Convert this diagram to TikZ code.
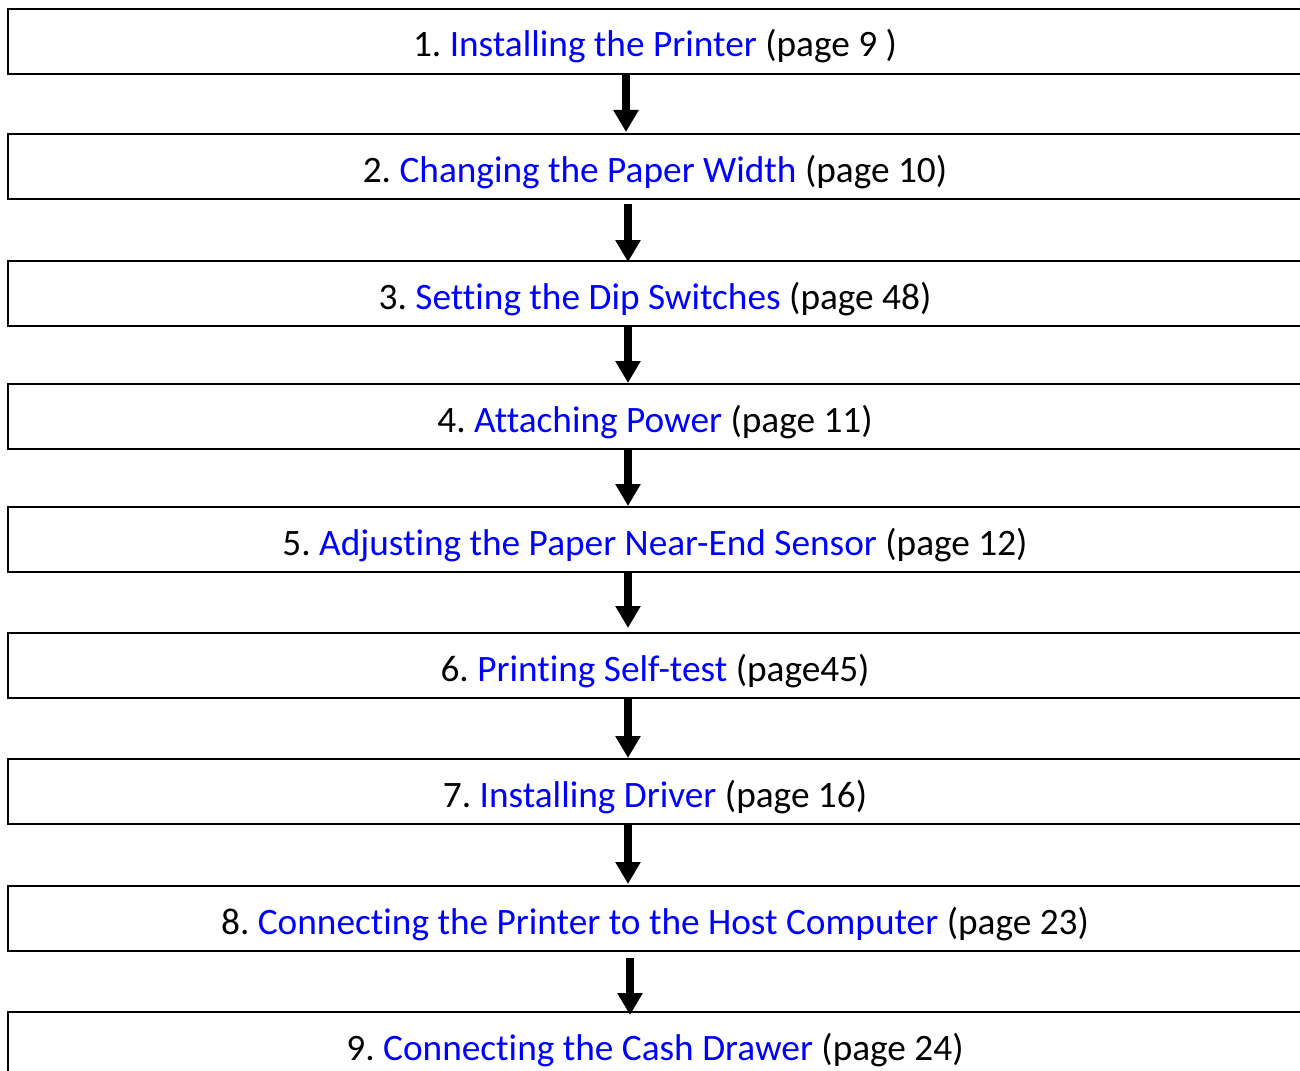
\documentclass[tikz,border=0pt]{standalone}
\usepackage{fontspec}
\setmainfont[Ligatures={NoCommon,NoContextual},RawFeature={-liga;-calt;-clig}]{Carlito}
\usetikzlibrary{arrows.meta}
\definecolor{linkblue}{RGB}{0,0,255}
\tikzset{
  stepbox/.style={draw=black, line width=2pt, rectangle, minimum width=1294pt,
    inner xsep=0pt, inner ysep=8pt, text height=40pt, text depth=9pt,
    font=\fontsize{37.3}{40}\selectfont\frenchspacing, anchor=north},
  flow/.style={line width=8pt, -{Triangle[width=24pt,length=22pt]}}
}
\newcommand{\lk}[1]{\textcolor{linkblue}{#1}}
\begin{document}
\begin{tikzpicture}[x=1pt,y=-1pt]
\useasboundingbox (0,0) rectangle (1300,1070);
\node[stepbox] (b1) at (655,8)    {1. \lk{Installing the Printer} (page 9 )};
\node[stepbox] (b2) at (655,133)  {2. \lk{Changing the Paper Width} (page 10)};
\node[stepbox] (b3) at (655,260)  {3. \lk{Setting the Dip Switches} (page 48)};
\node[stepbox] (b4) at (655,383)  {4. \lk{Attaching Power} (page 11)};
\node[stepbox] (b5) at (655,506)  {5. \lk{Adjusting the Paper Near-End Sensor} (page 12)};
\node[stepbox] (b6) at (655,632)  {6. \lk{Printing Self-test} (page45)};
\node[stepbox] (b7) at (655,758)  {7. \lk{Installing Driver} (page 16)};
\node[stepbox] (b8) at (655,885)  {8. \lk{Connecting the Printer to the Host Computer} (page 23)};
\node[stepbox] (b9) at (655,1011) {9. \lk{Connecting the Cash Drawer} (page 24)};
\draw[flow] ([xshift=-29pt]b1.south) -- ([xshift=-29pt,yshift=1pt]b2.north);
\draw[flow] ([xshift=-27pt,yshift=-4pt]b2.south) -- ([xshift=-27pt,yshift=-2pt]b3.north);
\draw[flow] ([xshift=-27pt]b3.south) -- ([xshift=-27pt]b4.north);
\draw[flow] ([xshift=-27pt,yshift=2pt]b4.south) -- ([xshift=-27pt]b5.north);
\draw[flow] ([xshift=-27pt,yshift=2pt]b5.south) -- ([xshift=-27pt,yshift=4pt]b6.north);
\draw[flow] ([xshift=-27pt]b6.south) -- ([xshift=-27pt]b7.north);
\draw[flow] ([xshift=-27pt]b7.south) -- ([xshift=-27pt,yshift=1pt]b8.north);
\draw[flow] ([xshift=-25pt,yshift=-6pt]b8.south) -- ([xshift=-25pt,yshift=-4pt]b9.north);
\end{tikzpicture}
\end{document}
